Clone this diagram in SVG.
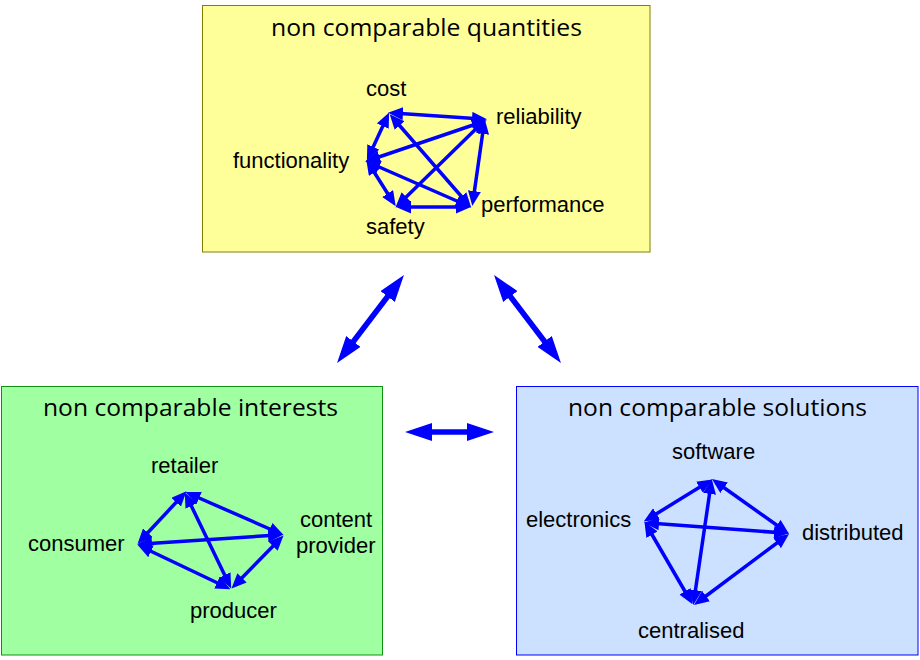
<svg xmlns="http://www.w3.org/2000/svg" width="920" height="660" viewBox="0 0 920 660">
<defs>
<marker id="sh" markerUnits="userSpaceOnUse" viewBox="0 0 15 13" markerWidth="15" markerHeight="13" refX="10" refY="6.5" orient="auto-start-reverse"><path d="M0,0 L15,6.5 L0,13 z" fill="#0000FF"/></marker>
<marker id="bh" markerUnits="userSpaceOnUse" viewBox="0 0 27 18" markerWidth="27" markerHeight="18" refX="17" refY="9" orient="auto-start-reverse"><path d="M0,0 L27,9 L0,18 z" fill="#0000FF"/></marker>
</defs>
<style>
.title{font-family:"Open Sans","Noto Sans",sans-serif;font-size:23px;fill:#000}
.lbl{font-family:"Liberation Sans",Arial,sans-serif;font-size:22px;fill:#000}
.e{stroke:#0000FF;stroke-width:3.5;fill:none;marker-start:url(#sh);marker-end:url(#sh)}
.big{stroke:#0000FF;stroke-width:5.5;fill:none;marker-start:url(#bh);marker-end:url(#bh)}
</style>
<g id="quantities">
<rect x="202.5" y="5.5" width="447.5" height="246.5" fill="#FFFF99" stroke="#808000" stroke-width="1"/>
<text class="title" x="271" y="36" textLength="311" lengthAdjust="spacingAndGlyphs">non comparable quantities</text>
<text class="lbl" x="366" y="96">cost</text>
<text class="lbl" x="496" y="124">reliability</text>
<text class="lbl" x="233" y="168">functionality</text>
<text class="lbl" x="481" y="212">performance</text>
<text class="lbl" x="366" y="234">safety</text>
</g>
<g id="interests">
<rect x="1.5" y="386.5" width="381" height="268.5" fill="#A0FFA0" stroke="#109010" stroke-width="1"/>
<text class="title" x="43" y="416" textLength="295" lengthAdjust="spacingAndGlyphs">non comparable interests</text>
<text class="lbl" x="151" y="473">retailer</text>
<text class="lbl" x="28" y="551">consumer</text>
<text class="lbl" x="300" y="527">content</text>
<text class="lbl" x="296" y="553">provider</text>
<text class="lbl" x="190" y="618">producer</text>
</g>
<g id="solutions">
<rect x="516.5" y="386.5" width="401.5" height="268.5" fill="#CCE0FF" stroke="#0000FF" stroke-width="1"/>
<text class="title" x="568" y="416" textLength="299" lengthAdjust="spacingAndGlyphs">non comparable solutions</text>
<text class="lbl" x="672" y="459">software</text>
<text class="lbl" x="526" y="527">electronics</text>
<text class="lbl" x="802" y="540">distributed</text>
<text class="lbl" x="638" y="638">centralised</text>
</g>
<g id="connectors">
<line class="big" x1="397.9" y1="283" x2="343.1" y2="355"/>
<line class="big" x1="500.1" y1="283" x2="554.9" y2="355"/>
<line class="big" x1="415" y1="432" x2="484" y2="432"/>
<!-- quantities -->
<line class="e" x1="393" y1="113" x2="482" y2="119"/>
<line class="e" x1="387" y1="117" x2="369" y2="156"/>
<line class="e" x1="393" y1="118" x2="468" y2="204"/>
<line class="e" x1="482" y1="122" x2="370" y2="160"/>
<line class="e" x1="482" y1="123" x2="399" y2="204"/>
<line class="e" x1="484" y1="124" x2="473" y2="201"/>
<line class="e" x1="369" y1="164" x2="393" y2="202"/>
<line class="e" x1="370" y1="163" x2="466" y2="205"/>
<line class="e" x1="401" y1="207" x2="466" y2="207"/>
<!-- interests -->
<line class="e" x1="183" y1="495" x2="141" y2="540"/>
<line class="e" x1="190" y1="494" x2="279" y2="533"/>
<line class="e" x1="187" y1="497" x2="229" y2="584"/>
<line class="e" x1="142" y1="544" x2="278" y2="535"/>
<line class="e" x1="142" y1="547" x2="226" y2="587"/>
<line class="e" x1="280" y1="539" x2="235" y2="585"/>
<!-- solutions -->
<line class="e" x1="708" y1="482" x2="648" y2="519"/>
<line class="e" x1="716" y1="482" x2="785" y2="531"/>
<line class="e" x1="711" y1="484" x2="694" y2="600"/>
<line class="e" x1="649" y1="523" x2="784" y2="533"/>
<line class="e" x1="647" y1="526" x2="690" y2="600"/>
<line class="e" x1="785" y1="537" x2="698" y2="602"/>
</g>
</svg>
